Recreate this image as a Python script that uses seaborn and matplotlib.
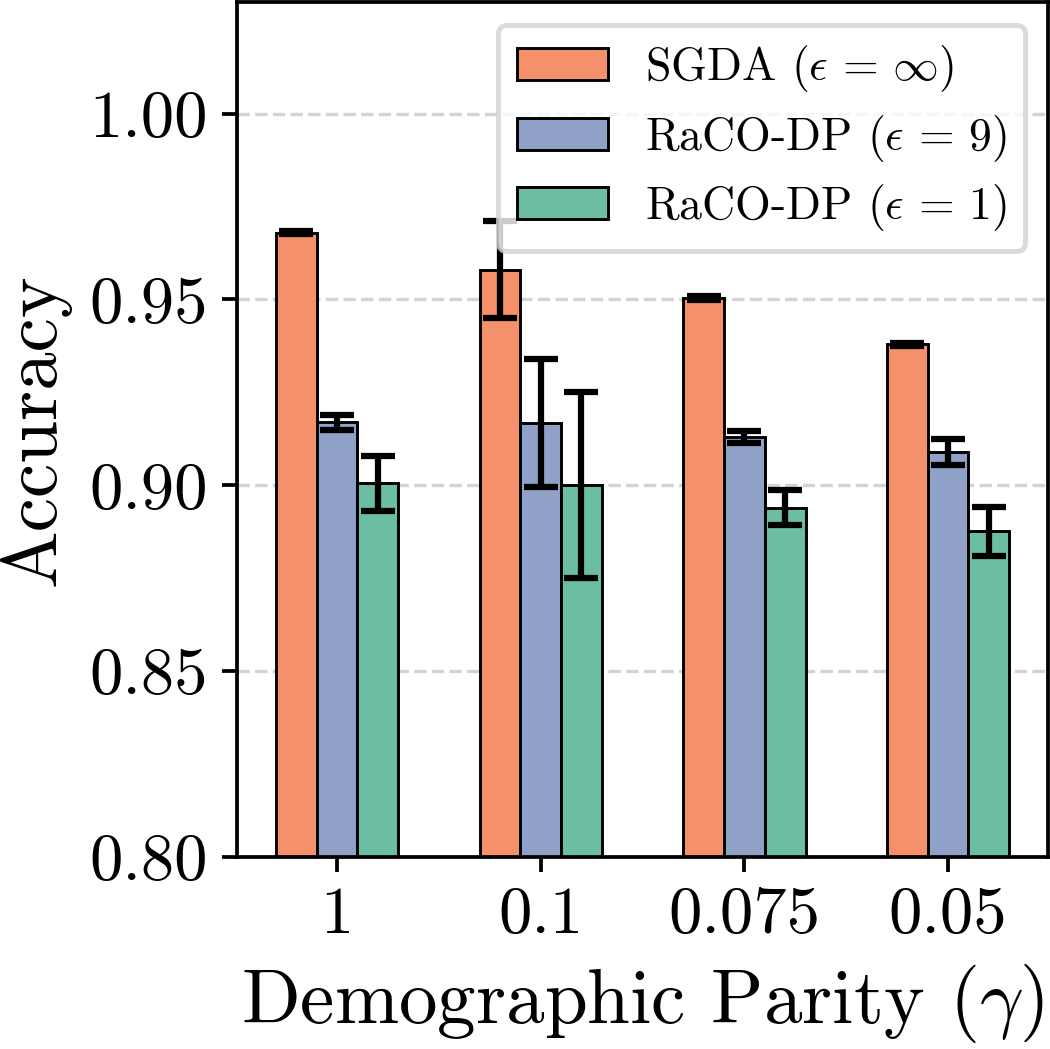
import pandas as pd
import numpy as np
import matplotlib
matplotlib.use("Agg")
import matplotlib.pyplot as plt
import seaborn as sns
from matplotlib.ticker import FormatStrFormatter

# data
gammas = ["1", "0.1", "0.075", "0.05"]
methods = [r"SGDA ($\epsilon\,=\,\infty$)", r"RaCO-DP ($\epsilon\,=\,9$)", r"RaCO-DP ($\epsilon\,=\,1$)"]
sgda_acc = [0.968, 0.958, 0.9503, 0.9379]
sgda_err = [0.0005, 0.013, 0.0005, 0.0005]
raco9_acc = [0.917, 0.9167, 0.9129, 0.9089]
raco9_err = [0.002, 0.0172, 0.0016, 0.0035]
raco1_acc = [0.9005, 0.900, 0.894, 0.8876]
raco1_err = [0.0075, 0.025, 0.0047, 0.0065]

accs = [sgda_acc, raco9_acc, raco1_acc]
errs = [sgda_err, raco9_err, raco1_err]

rows = []
for m, a in zip(methods, accs):
    for g, v in zip(gammas, a):
        rows.append({"gamma": g, "method": m, "acc": v})
df = pd.DataFrame(rows)

sns.set_style("white")
plt.rcParams["font.family"] = "serif"
plt.rcParams["font.serif"] = ["cmr10"]
plt.rcParams["mathtext.fontset"] = "cm"
plt.rcParams["axes.formatter.use_mathtext"] = True
plt.rcParams["text.color"] = "black"
plt.rcParams["axes.labelcolor"] = "black"
plt.rcParams["xtick.color"] = "black"
plt.rcParams["ytick.color"] = "black"

set2 = sns.color_palette("Set2")
pal = [set2[1], set2[2], set2[0]]

fig, ax = plt.subplots(figsize=(3.5, 3.4967), dpi=300)
sns.barplot(data=df, x="gamma", y="acc", hue="method", order=gammas,
            hue_order=methods, palette=pal, saturation=0.9, width=0.6,
            errorbar=None, edgecolor="black", linewidth=0.7, ax=ax)

# error bars on each bar
for cont, e in zip(ax.containers, errs):
    xs = [p.get_x() + p.get_width() / 2 for p in cont.patches]
    hs = [p.get_height() for p in cont.patches]
    ax.errorbar(xs, hs, yerr=e, fmt="none", ecolor="black",
                elinewidth=1.5, capsize=4, capthick=1.5, zorder=5)

ax.set_ylim(0.80, 1.03)
ax.set_xlim(-0.49, 3.49)
ax.set_yticks([0.80, 0.85, 0.90, 0.95, 1.00])
ax.yaxis.set_major_formatter(FormatStrFormatter("%.2f"))
ax.yaxis.grid(True, linestyle="--", color="lightgrey", linewidth=0.8)
ax.set_axisbelow(True)
for s in ax.spines.values():
    s.set_color("black")
    s.set_linewidth(0.9)
ax.tick_params(axis="both", labelsize=16, length=3.5, width=0.9, bottom=True, left=True)
ax.set_xlabel(r"Demographic Parity ($\gamma$)", fontsize=18.5, labelpad=4)
ax.set_ylabel("Accuracy", fontsize=18.5, labelpad=4.5)

leg = ax.legend(loc="upper right", fontsize=11, fancybox=True, framealpha=0.8,
                edgecolor="lightgrey", borderaxespad=0.5, labelspacing=0.4,
                handlelength=2.0, handleheight=0.7)
leg.set_zorder(6)
leg.get_frame().set_linewidth(1.2)

fig.subplots_adjust(left=0.226, right=0.998, bottom=0.183, top=0.998)
fig.savefig("out.png", dpi=300)
